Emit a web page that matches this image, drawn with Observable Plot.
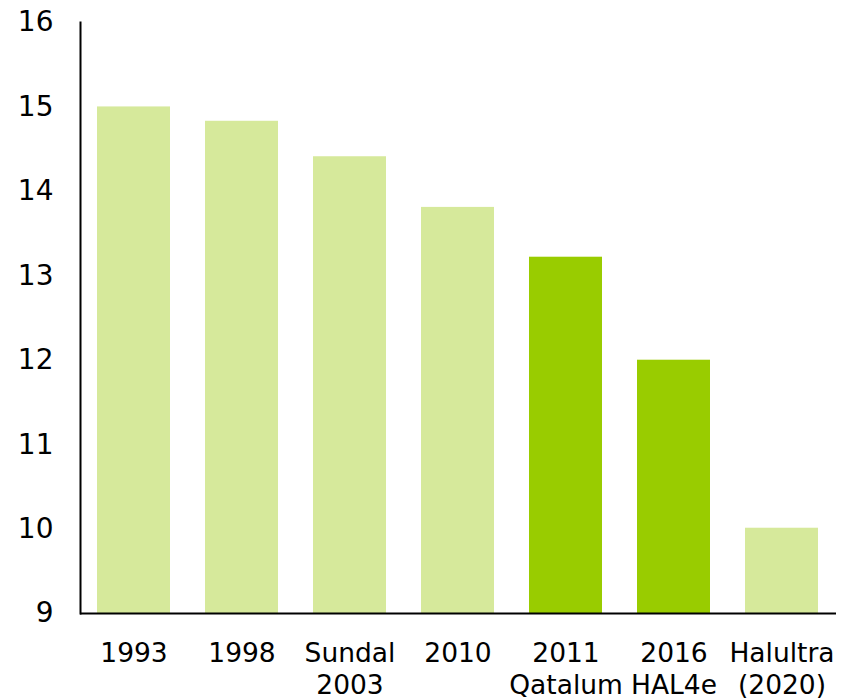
<!DOCTYPE html>
<html>
<head>
<meta charset="utf-8">
<script src="https://cdn.jsdelivr.net/npm/d3@7"></script>
<script src="https://cdn.jsdelivr.net/npm/@observablehq/plot@0.6"></script>
<style>
  html, body { margin: 0; padding: 0; background: #fff; }
  #chart svg { display: block; }
</style>
</head>
<body>
<div id="chart"></div>
<script>
const categories = ["1993", "1998", "Sundal\n2003", "2010", "2011\nQatalum", "2016\nHAL4e", "Halultra\n(2020)"];
const values = [15.0, 14.83, 14.41, 13.81, 13.22, 12.0, 10.01];
const highlighted = [false, false, false, false, true, true, false];
const yTicks = [9, 10, 11, 12, 13, 14, 15, 16];

const data = categories.map((c, i) => ({category: c, value: values[i], highlighted: highlighted[i]}));

const chart = Plot.plot({
  width: 851,
  height: 699,
  marginLeft: 80,
  marginRight: 15,
  marginTop: 22,
  marginBottom: 86,
  style: {fontFamily: "'DejaVu Sans', Verdana, sans-serif", background: "#fff", color: "#000"},
  x: {domain: categories, paddingInner: 0.32, paddingOuter: 0.16, label: null},
  y: {domain: [9, 16], label: null},
  marks: [
    Plot.barY(data, {
      x: "category",
      y1: 9,
      y2: "value",
      fill: d => d.highlighted ? "#99cc00" : "#d6e99b"
    }),
    Plot.axisY({ticks: yTicks, tickFormat: d3.format("d"), tickSize: 0, tickPadding: 27, fontSize: 28, label: null}),
    Plot.axisX({tickSize: 0, tickPadding: 26, fontSize: 26.5, lineHeight: 1.2, label: null}),
    Plot.frame({anchor: "left", stroke: "#000", strokeWidth: 2}),
    Plot.ruleY([9], {stroke: "#000", strokeWidth: 2})
  ]
});
document.getElementById("chart").appendChild(chart);
</script>
</body>
</html>
